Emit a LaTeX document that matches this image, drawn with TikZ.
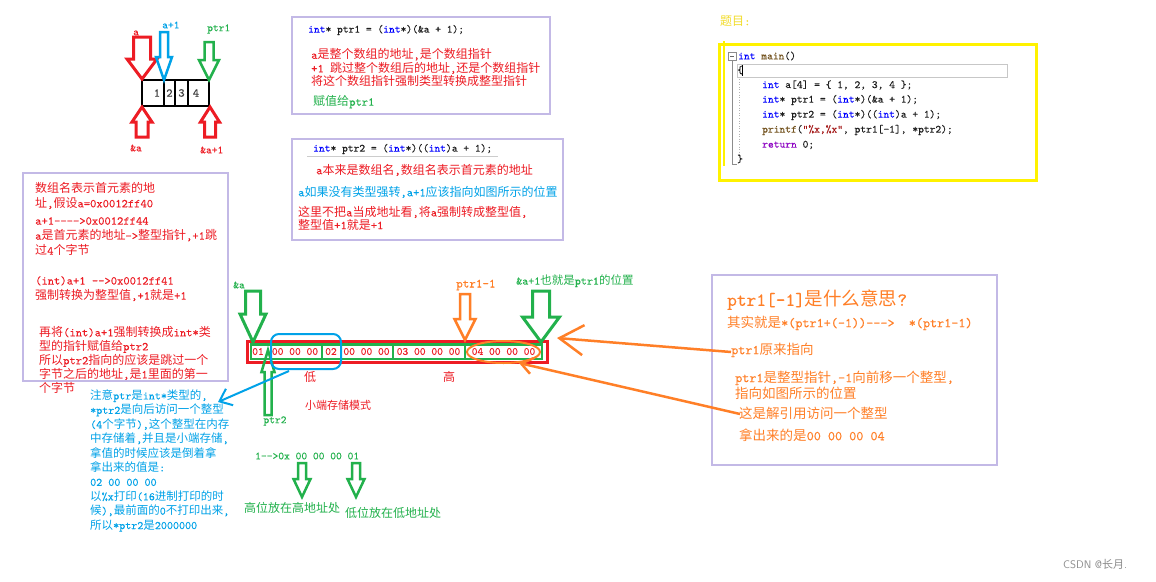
\documentclass[tikz,border=0pt]{standalone}
\usepackage{fontspec}
\usetikzlibrary{arrows.meta,shapes.geometric}
\setmonofont{lmmono10-regular.otf}[FakeBold=0.2]
\newfontfamily\cjk{Noto Sans CJK SC}
\renewcommand\familydefault{\ttdefault}
\XeTeXinterchartokenstate=1
\newXeTeXintercharclass\CJKcls
\makeatletter
\count@="4E00
\loop\ifnum\count@<"A000 \XeTeXcharclass\count@=\CJKcls\relax\advance\count@\@ne\repeat
\count@="3000
\loop\ifnum\count@<"3040 \XeTeXcharclass\count@=\CJKcls\relax\advance\count@\@ne\repeat
\count@="FF00
\loop\ifnum\count@<"FFF0 \XeTeXcharclass\count@=\CJKcls\relax\advance\count@\@ne\repeat
\makeatother
\XeTeXinterchartoks 0 \CJKcls={\begingroup\cjk}
\XeTeXinterchartoks 4095 \CJKcls={\begingroup\cjk}
\XeTeXinterchartoks \CJKcls 0={\endgroup}
\XeTeXinterchartoks \CJKcls 4095={\endgroup}
\definecolor{pred}{HTML}{ED1C24}
\definecolor{pgreen}{HTML}{22B14C}
\definecolor{pblue}{HTML}{00A2E8}
\definecolor{porange}{HTML}{FF7F27}
\definecolor{plav}{HTML}{C3B9E6}
\definecolor{pyellow}{HTML}{FFF200}
\definecolor{tyellow}{HTML}{F2DC2A}
\definecolor{kw}{HTML}{0000FF}
\definecolor{fn}{HTML}{74531F}
\definecolor{strc}{HTML}{A31515}
\definecolor{rt}{HTML}{8F08C4}
\definecolor{codec}{HTML}{1E1E1E}
\newcommand\arrdown[7]{\draw[#1] ({#2-#4},{#3-#7}) -- ({#2-#4},{#3-#6}) -- ({#2-#5},{#3-#6}) -- (#2,#3) -- ({#2+#5},{#3-#6}) -- ({#2+#4},{#3-#6}) -- ({#2+#4},{#3-#7}) -- cycle;}
\newcommand\arrup[7]{\draw[#1] ({#2-#4},{#3+#7}) -- ({#2-#4},{#3+#6}) -- ({#2-#5},{#3+#6}) -- (#2,#3) -- ({#2+#5},{#3+#6}) -- ({#2+#4},{#3+#6}) -- ({#2+#4},{#3+#7}) -- cycle;}
\tikzset{
  T/.style={inner sep=0pt, anchor=west},
  B/.style={inner sep=0pt, anchor=north west, align=left},
  f11/.style={font=\fontsize{11}{13}\selectfont},
  f12/.style={font=\fontsize{12}{13.5}\selectfont},
  lavbox/.style={draw=plav, line width=2pt},
  code/.style={T, f11, text=codec},
  hex/.style={inner sep=0pt, anchor=center, f11, text=pred},
  cell/.style={draw=pgreen, line width=2.5pt},
}
\begin{document}
\begin{tikzpicture}[x=1pt,y=-1pt]
\fill[white] (0,0) rectangle (1156,581);
\useasboundingbox (0,0) rectangle (1156,581);

% ---------- top-left array ----------
\draw[black, line width=2.5pt] (142,80) rectangle (209,106);
\draw[black, line width=2pt] (164,80)--(164,106) (175,80)--(175,106) (188,80)--(188,106);
\node[hex, f12, text=black!75] (e1) at (157,93) {1};
\node[hex, f12, text=black!75] (e2) at (169.5,93) {2};
\node[hex, f12, text=black!75] (e3) at (181.5,93) {3};
\node[hex, f12, text=black!75] (e4) at (196,93) {4};
\arrdown{pred, line width=3pt}{142}{79}{8.5}{15}{20}{42}
\arrdown{pblue, line width=2.5pt}{164}{80}{4}{8}{23}{48}
\arrdown{pgreen, line width=2.5pt}{209}{80}{4.5}{10}{20}{38}
\arrup{pred, line width=3pt}{142}{107}{6}{10}{15}{30}
\arrup{pred, line width=3pt}{210}{107}{5.5}{9.5}{15}{30}
\node[T, f11, text=pred] (la) at (133,33) {a};
\node[T, f11, text=pblue] (la1) at (162,25) {a+1};
\node[T, f11, text=pgreen] (lptr1) at (207,29) {ptr1};
\node[T, f11, text=pred] (lra) at (130,148) {\&a};
\node[T, f11, text=pred] (lra1) at (200,150) {\&a+1};

% ---------- box 1 ----------
\draw[lavbox] (292,17) rectangle (550,114);
\node[code] (c1) at (308,30) {\textcolor{kw}{int}* ptr1 = (\textcolor{kw}{int}*)(\&a + 1);};
\node[B, f12, text=pred] (t1) at (311,48.5) {a是整个数组的地址,是个数组指针\\+1 跳过整个数组后的地址,还是个数组指针\\将这个数组指针强制类型转换成整型指针};
\node[T, f12, text=pgreen] (t1b) at (313,102) {赋值给ptr1};

% ---------- box 2 ----------
\draw[lavbox] (292,139) rectangle (563,240);
\node[code] (c2) at (313,149) {\textcolor{kw}{int}* ptr2 = (\textcolor{kw}{int}*)((\textcolor{kw}{int})a + 1);};
\draw[black!20, line width=0.8pt] (307,156.5) -- (498,156.5);
\node[T, f12, text=pred] (t2a) at (316,170) {a本来是数组名,数组名表示首元素的地址};
\node[T, f12, text=pblue] (t2b) at (298,192) {a如果没有类型强转,a+1应该指向如图所示的位置};
\node[B, f12, text=pred, font=\fontsize{12}{12.8}\selectfont] (t2c) at (298,206) {这里不把a当成地址看,将a强制转成整型值,\\整型值+1就是+1};

% ---------- left box ----------
\draw[lavbox] (23,173) rectangle (228,381);
\node[B, text=pred, font=\fontsize{12}{15}\selectfont] (p1) at (35,182) {数组名表示首元素的地\\址,假设a=0x0012ff40};
\node[B, text=pred, font=\fontsize{12}{15}\selectfont] (p2) at (35,217) {a+1-{}-{}-{}->0x0012ff44\\a是首元素的地址->整型指针,+1跳\\过4个字节};
\node[B, text=pred, font=\fontsize{12}{15}\selectfont] (p3) at (35,276) {(int)a+1 -{}->0x0012ff41\\强制转换为整型值,+1就是+1};
\node[B, text=pred, font=\fontsize{12}{14}\selectfont] (p4) at (39,326) {再将(int)a+1强制转换成int*类\\型的指针赋值给ptr2\\所以ptr2指向的应该是跳过一个\\字节之后的地址,是1里面的第一\\个字节};

% ---------- code box ----------
\node[T, f12, text=tyellow] (title) at (720,21) {题目:};
\draw[pyellow, line width=3pt] (719,44) rectangle (1036,180);
\draw[pyellow, line width=1.5pt] (724,41) -- (724,166);
\draw[black!45, line width=0.6pt] (728,52) rectangle (736,60);
\draw[black!60, line width=0.8pt] (730,56) -- (734,56);
\draw[black!45, line width=0.6pt] (732,60) -- (732,164) -- (737,164);
\draw[black!30, line width=0.6pt, dotted] (739,79) -- (739,155);
\draw[black!22, line width=0.8pt] (737,64) rectangle (1007,77);
\draw[black, line width=0.8pt] (742,65) -- (742,76);
\node[code] (k1) at (738,56) {\textcolor{kw}{int} \textcolor{fn}{main}()};
\node[code] (k2) at (737,70) {\{};
\node[code] (k3) at (762,85) {\textcolor{kw}{int} a[4] = \{ 1, 2, 3, 4 \};};
\node[code] (k4) at (762,100) {\textcolor{kw}{int}* ptr1 = (\textcolor{kw}{int}*)(\&a + 1);};
\node[code] (k5) at (762,115) {\textcolor{kw}{int}* ptr2 = (\textcolor{kw}{int}*)((\textcolor{kw}{int})a + 1);};
\node[code] (k6) at (762,130) {\textcolor{fn}{printf}(\textcolor{strc}{"\%x,\%x"}, ptr1[-1], *ptr2);};
\node[code] (k7) at (762,145) {\textcolor{rt}{return} 0;};
\node[code] (k8) at (737,159) {\}};

% ---------- memory strip ----------
\draw[pred, line width=3pt] (247,341.5) rectangle (547,362);
\draw[cell] (251,344.5) rectangle (322,359);
\draw[cell] (322,344.5) rectangle (393,359);
\draw[cell] (393,344.5) rectangle (465,359);
\draw[cell] (465,344.5) rectangle (542,359);
\node[hex] (b1) at (258,351.5) {01};
\node[hex] (b2) at (295,351.5) {00 00 00};
\node[hex] (b3) at (331,351.5) {02};
\node[hex] (b4) at (366.5,351.5) {00 00 00};
\node[hex] (b5) at (428.5,351.5) {03 00 00 00};
\node[hex] (b6) at (503.5,351.5) {04 00 00 00};
\arrdown{pgreen, line width=3pt}{253}{342}{7.5}{13}{28}{51}
\arrdown{porange, line width=2.5pt}{465}{340}{5}{10.5}{21}{46}
\arrdown{pgreen, line width=3pt}{541}{342}{8.5}{18.5}{25}{51}
\arrup{pgreen, line width=2.5pt}{268}{350}{3.5}{6.5}{22}{65}
\node[T, f11, text=pgreen] (lamp) at (233,285) {\&a};
\node[T, font=\fontsize{12.5}{14}\selectfont, text=porange] (lptrm) at (456,285) {ptr1-1};
\node[T, font=\fontsize{11.5}{13}\selectfont, text=pgreen] (lamp1) at (516,281) {\&a+1也就是ptr1的位置};
\node[draw=pblue, line width=2pt, rounded corners=8pt, minimum width=70pt, minimum height=35pt, inner sep=0pt] (lowbox) at (306,351.5) {};
\node[draw=porange, line width=2pt, ellipse, minimum width=73pt, minimum height=22pt, inner sep=0pt] (oval) at (503.5,352) {};
\node[inner sep=0pt, anchor=center, f12, text=pred] (low) at (310,377) {低};
\node[inner sep=0pt, anchor=center, f12, text=pred] (high) at (449,377) {高};
\node[T, f11, text=pred] (little) at (305,405) {小端存储模式};
\node[inner sep=0pt, anchor=center, f11, text=pgreen] (lptr2) at (275,421) {ptr2};

% ---------- bottom middle ----------
\node[T, f11, text=pgreen] (one) at (255,456) {1-{}->0x 00 00 00 01};
\arrdown{pgreen, line width=2.5pt}{302}{497}{4}{8.5}{18}{34}
\arrdown{pgreen, line width=2.5pt}{356}{497}{4}{8.5}{18}{34}
\node[T, f12, text=pgreen] (hi) at (244,508) {高位放在高地址处};
\node[T, f12, text=pgreen] (lo) at (345,513) {低位放在低地址处};

% ---------- bottom-left note ----------
\node[B, text=pblue, font=\fontsize{11.5}{14.4}\selectfont] (note) at (90,389.5) {注意ptr是int*类型的,\\*ptr2是向后访问一个整型\\(4个字节),这个整型在内存\\中存储着,并且是小端存储,\\拿值的时候应该是倒着拿\\拿出来的值是:\\02 00 00 00\\以\%x打印(16进制打印的时\\候),最前面的0不打印出来,\\所以*ptr2是2000000};
\coordinate (bs) at (289,371);
\coordinate (be) at (218,402);
\draw[pblue, line width=2pt, -{Straight Barb[length=11pt,width=18pt]}] (bs) -- (be);

% ---------- right box ----------
\draw[lavbox] (712,275) rectangle (997,465);
\node[T, font=\fontsize{18.5}{20}\selectfont, text=porange] (q) at (727,300) {ptr1[-1]是什么意思?};
\node[T, font=\fontsize{13.5}{15}\selectfont, text=porange] (q1) at (727,323) {其实就是*(ptr1+(-1))-{}-{}->\ \ *(ptr1-1)};
\node[T, font=\fontsize{13.5}{15}\selectfont, text=porange] (q2) at (731,350) {ptr1原来指向};
\node[B, font=\fontsize{13.5}{16}\selectfont, text=porange] (q3) at (735,370.5) {ptr1是整型指针,-1向前移一个整型,\\指向如图所示的位置};
\node[T, font=\fontsize{13.5}{15}\selectfont, text=porange] (q4) at (739,413) {这是解引用访问一个整型};
\node[T, font=\fontsize{13.5}{15}\selectfont, text=porange] (q5) at (739,435) {拿出来的是00 00 00 04};
\coordinate (o1s) at (731,352);
\coordinate (o1e) at (557,338);
\draw[porange, line width=2.5pt, -{Straight Barb[length=24pt,width=30pt]}] (o1s) -- (o1e);
\coordinate (o2s) at (740,414);
\coordinate (o2e) at (519,363);
\draw[porange, line width=2.5pt, -{Straight Barb[length=11pt,width=16pt]}] (o2s) -- (o2e);

% ---------- watermark ----------
\node[T, font=\sffamily\fontsize{11}{13}\selectfont, text=black!45] (wm) at (1063,564) {CSDN @长月.};
\end{tikzpicture}
\end{document}
